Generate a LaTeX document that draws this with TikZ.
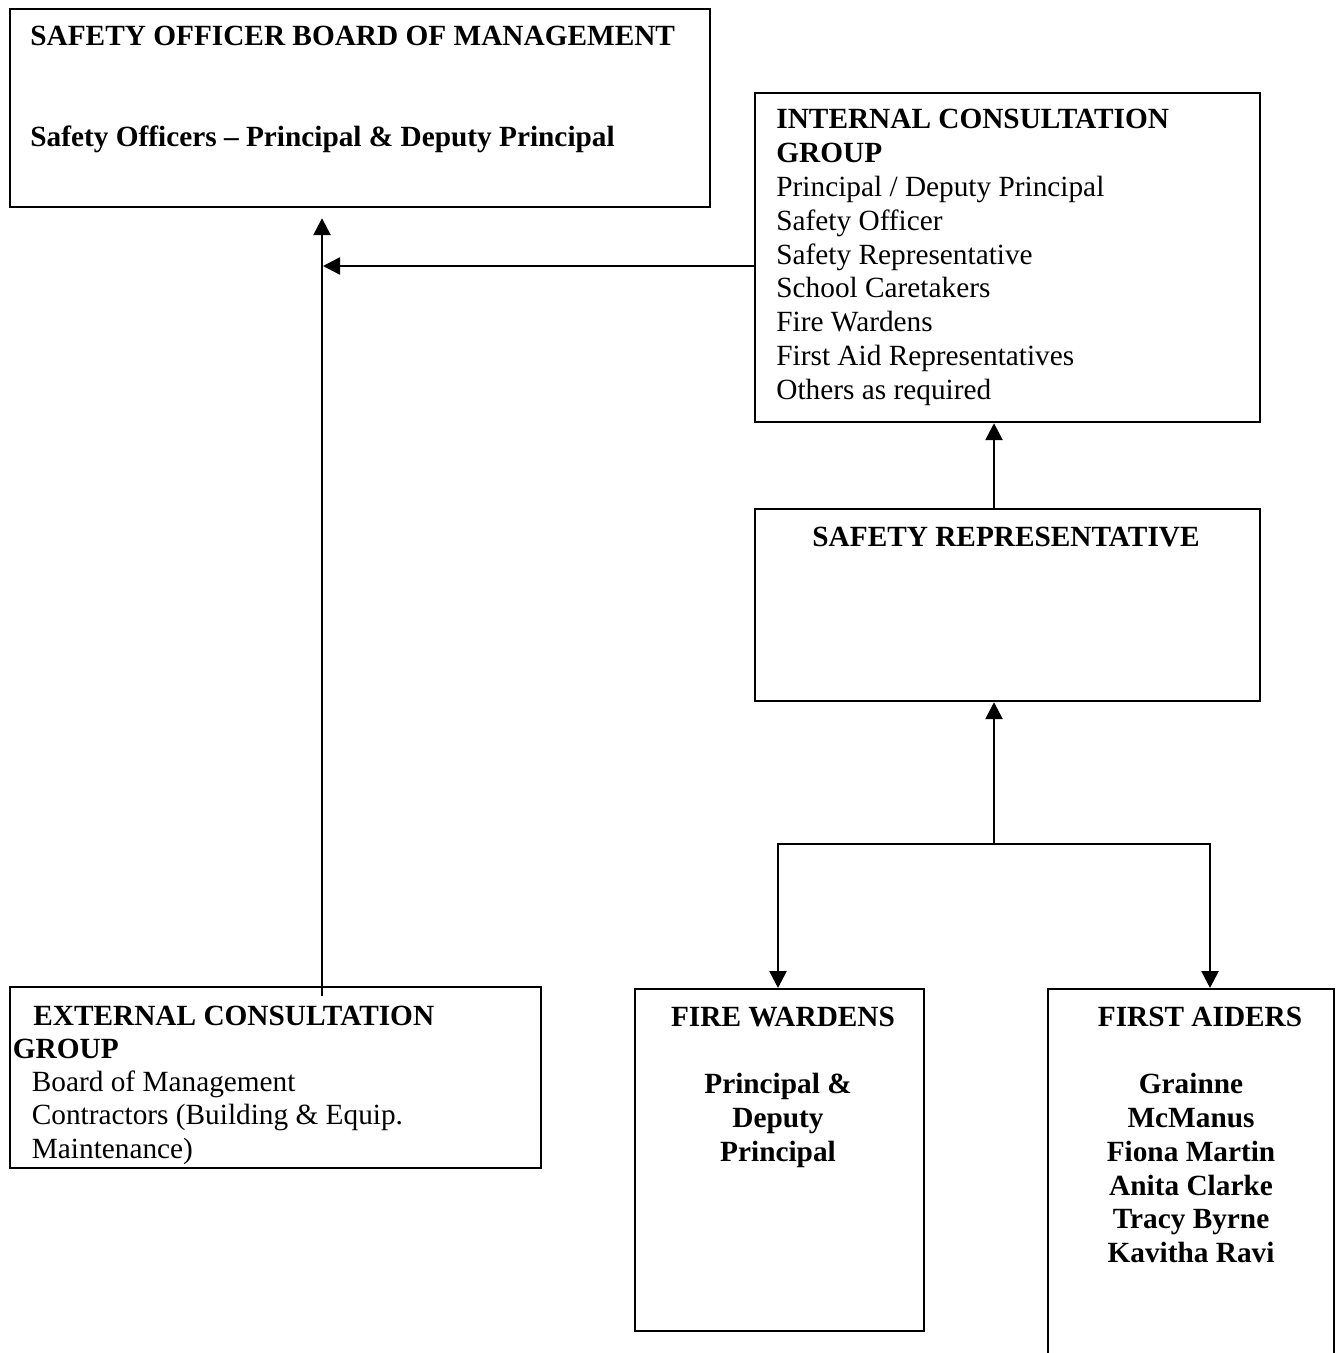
\documentclass[tikz,border=0pt]{standalone}
\usepackage{fontspec}
\setmainfont{Liberation Serif}
\usetikzlibrary{arrows.meta}
\begin{document}
\begin{tikzpicture}[x=0.5pt,y=-0.5pt,
  box/.style={draw, line width=1.1pt, inner sep=0pt, anchor=north west},
  arr/.style={line width=1.3pt, -{Triangle[length=8.5pt,width=8.5pt]}},
  txt/.style={inner sep=0pt, font=\fontsize{14.65}{17}\selectfont},
  lt/.style={txt, anchor=base west},
  ct/.style={txt, anchor=base},
  bold/.style={font=\fontsize{14.65}{17}\selectfont\bfseries}]
\fill[white] (0,0) rectangle (1336,1353);
\useasboundingbox (0,0) rectangle (1336,1353);
\clip (0,0) rectangle (1336,1353);

% boxes
\node[box, minimum width=350pt, minimum height=99pt] (A) at (9,8) {};
\node[box, minimum width=252.5pt, minimum height=164.5pt] (B) at (754,92) {};
\node[box, minimum width=252.5pt, minimum height=96pt] (C) at (754,508) {};
\node[box, minimum width=265.5pt, minimum height=90.5pt] (D) at (9,986) {};
\node[box, minimum width=144.5pt, minimum height=171pt] (E) at (634,988) {};
\node[box, minimum width=143pt, minimum height=200pt] (F) at (1047,988) {};

% texts: A
\node[lt, bold] (a1) at (30,46) {SAFETY OFFICER BOARD OF MANAGEMENT};
\node[lt, bold] (a2) at (30,147) {Safety Officers – Principal \& Deputy Principal};

% texts: B
\node[lt, bold] (b1) at (776,129) {INTERNAL CONSULTATION};
\node[lt, bold] (b2) at (776,162.8) {GROUP};
\node[lt] (b3) at (776,196.6) {Principal / Deputy Principal};
\node[lt] (b4) at (776,230.4) {Safety Officer};
\node[lt] (b5) at (776,264.2) {Safety Representative};
\node[lt] (b6) at (776,298) {School Caretakers};
\node[lt] (b7) at (776,331.8) {Fire Wardens};
\node[lt] (b8) at (776,365.6) {First Aid Representatives};
\node[lt] (b9) at (776,399.4) {Others as required};

% texts: C
\node[ct, bold] (c1) at (1006,546) {SAFETY REPRESENTATIVE};

% texts: D
\node[lt, bold] (d1) at (33,1025) {EXTERNAL CONSULTATION};
\node[lt, bold] (d2) at (12.5,1058) {GROUP};
\node[lt] (d3) at (31.5,1091) {Board of Management};
\node[lt] (d4) at (31.5,1124.5) {Contractors (Building \& Equip.};
\node[lt] (d5) at (31.5,1158) {Maintenance)};

% texts: E
\node[ct, bold] (e1) at (783,1026) {FIRE WARDENS};
\node[ct, bold] (e2) at (778,1093) {Principal \&};
\node[ct, bold] (e3) at (778,1127) {Deputy};
\node[ct, bold] (e4) at (778,1161) {Principal};

% texts: F
\node[ct, bold] (f1) at (1200,1026) {FIRST AIDERS};
\node[ct, bold] (f2) at (1191,1093) {Grainne};
\node[ct, bold] (f3) at (1191,1127) {McManus};
\node[ct, bold] (f4) at (1191,1161) {Fiona Martin};
\node[ct, bold] (f5) at (1191,1195) {Anita Clarke};
\node[ct, bold] (f6) at (1191,1228.5) {Tracy Byrne};
\node[ct, bold] (f7) at (1191,1262) {Kavitha Ravi};

% connectors
\coordinate (eu) at (322,996);
\draw[arr, shorten >=5pt] (eu) -- (eu |- A.south);
\coordinate (jh) at (323,266);
\draw[arr] (jh -| B.west) -- (jh);
\coordinate (cx) at (994,0);
\draw[arr] (C.north -| cx) -- (B.south -| cx);
\coordinate (br) at (994,844);
\draw[arr] (br) -- (br |- C.south);
\coordinate (el) at (778,0);
\coordinate (fr) at (1210,0);
\draw[arr] (br) -| (E.north -| el);
\draw[arr] (br) -| (F.north -| fr);
\end{tikzpicture}
\end{document}
